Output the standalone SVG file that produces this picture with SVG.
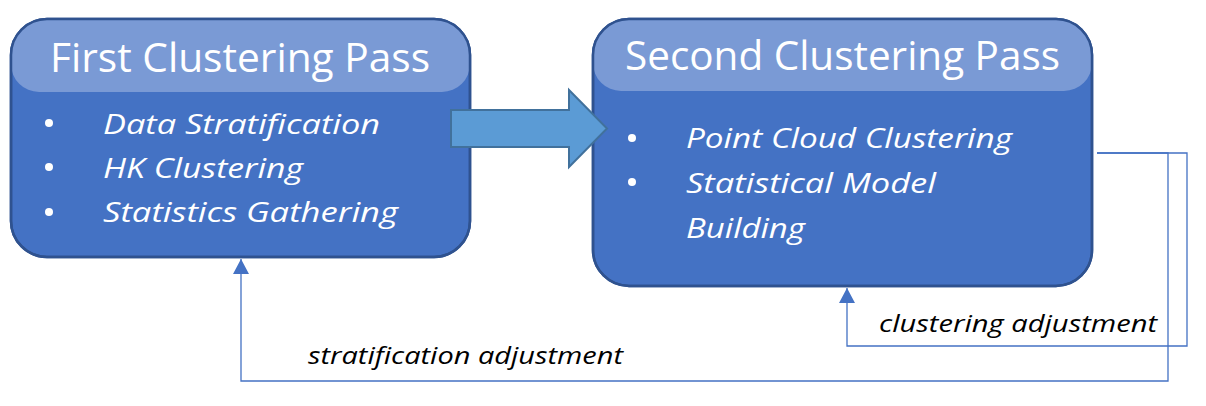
<svg xmlns="http://www.w3.org/2000/svg" width="1206" height="406" viewBox="0 0 1206 406">
<style>
.box{fill:#4472C4;stroke:#2F528F;stroke-width:2.5}
.hdr{fill:#7A9AD5}
.title{font-family:"Open Sans","Noto Sans",sans-serif;font-size:40px;fill:#FFFFFF}
.item{font-family:"Open Sans","Noto Sans",sans-serif;font-style:italic;font-size:28px;fill:#FFFFFF}
.lbl{font-family:"Open Sans","Noto Sans",sans-serif;font-style:italic;font-size:24px;fill:#000000}
.bul{fill:#FFFFFF}
.conn{fill:none;stroke:#4472C4;stroke-width:1.3}
</style>
<defs>
<marker id="ah" markerUnits="userSpaceOnUse" markerWidth="16" markerHeight="16" refX="15" refY="8" orient="auto">
<path d="M0,0 L15,8 L0,16 z" fill="#4472C4"/>
</marker>
<clipPath id="c1"><rect x="11" y="19" width="459" height="238" rx="36"/></clipPath>
<clipPath id="c2"><rect x="593" y="19" width="499" height="267" rx="36"/></clipPath>
</defs>
<g id="first-pass">
<rect class="box" x="11" y="19" width="459" height="238" rx="36"/>
<rect class="hdr" x="11" y="-20" width="459" height="112" rx="28" clip-path="url(#c1)"/>
<rect x="11" y="19" width="459" height="238" rx="36" fill="none" stroke="#2F528F" stroke-width="2.5"/>
<text class="title" x="240" y="72" text-anchor="middle" textLength="380" lengthAdjust="spacingAndGlyphs">First Clustering Pass</text>
<circle class="bul" cx="49" cy="123" r="4"/>
<circle class="bul" cx="49" cy="167" r="4"/>
<circle class="bul" cx="49" cy="212" r="4"/>
<text class="item" x="103" y="134" textLength="277" lengthAdjust="spacingAndGlyphs">Data Stratification</text>
<text class="item" x="103" y="178" textLength="200" lengthAdjust="spacingAndGlyphs">HK Clustering</text>
<text class="item" x="103" y="222" textLength="295" lengthAdjust="spacingAndGlyphs">Statistics Gathering</text>
</g>
<g id="second-pass">
<rect class="box" x="593" y="19" width="499" height="267" rx="36"/>
<rect class="hdr" x="593" y="-20" width="499" height="111" rx="28" clip-path="url(#c2)"/>
<rect x="593" y="19" width="499" height="267" rx="36" fill="none" stroke="#2F528F" stroke-width="2.5"/>
<text class="title" x="842.5" y="70" text-anchor="middle" textLength="435" lengthAdjust="spacingAndGlyphs">Second Clustering Pass</text>
<circle class="bul" cx="632" cy="138" r="4"/>
<circle class="bul" cx="632" cy="182" r="4"/>
<text class="item" x="686" y="148" textLength="326" lengthAdjust="spacingAndGlyphs">Point Cloud Clustering</text>
<text class="item" x="686" y="193" textLength="250" lengthAdjust="spacingAndGlyphs">Statistical Model</text>
<text class="item" x="686" y="238" textLength="119" lengthAdjust="spacingAndGlyphs">Building</text>
</g>
<g id="connectors">
<path class="conn" d="M1097,153 H1187 V346 H847 V288" marker-end="url(#ah)"/>
<path class="conn" d="M1097,153 H1168 V381 H241 V259" marker-end="url(#ah)"/>
<polygon points="451,110 569,110 569,90 607,128.5 569,167 569,147 451,147" fill="#5B9BD5" stroke="#41719C" stroke-width="2"/>
</g>
<g id="labels">
<text class="lbl" x="879" y="332" textLength="278" lengthAdjust="spacingAndGlyphs">clustering adjustment</text>
<text class="lbl" x="308" y="364" textLength="315" lengthAdjust="spacingAndGlyphs">stratification adjustment</text>
</g>
</svg>
